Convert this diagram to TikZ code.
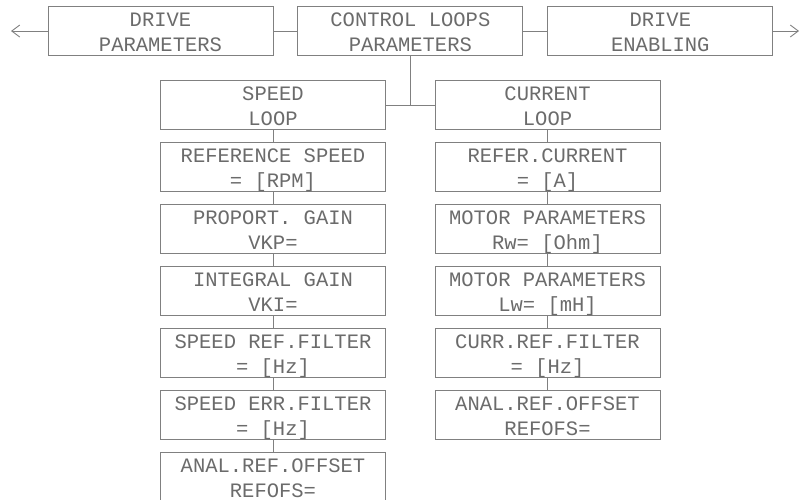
\documentclass[tikz,border=0pt]{standalone}
\usepackage{fontspec}
\setmonofont{Liberation Mono}
\usetikzlibrary{positioning,arrows.meta}

\begin{document}
\begin{tikzpicture}[x=1pt,y=-1pt,>={Straight Barb[length=8pt,width=12pt]},
  line width=0.9pt,color=black!50,
  box/.style={draw,align=center,minimum width=225pt,minimum height=49pt,inner sep=1pt,
    text height=44pt,text depth=3pt,text=black!58,font=\ttfamily\fontsize{20.5}{25}\selectfont}]
  \useasboundingbox (0,0) rectangle (802,499);
  % top row
  \node[box] (par) at (160.5,31) {DRIVE\\PARAMETERS};
  \node[box,right=24pt of par] (ctrl) {CONTROL LOOPS\\PARAMETERS};
  \node[box,right=24pt of ctrl] (enab) {DRIVE\\ENABLING};
  \coordinate (lft) at (11,31);
  \coordinate (rgt) at (799,31);
  % speed loop column
  \node[box] (spd) at (273,105) {SPEED\\LOOP};
  \node[box,below=12.1pt of spd] (refspd) {REFERENCE SPEED\\= [RPM]};
  \node[box,below=12.1pt of refspd] (kp) {PROPORT. GAIN\\VKP=};
  \node[box,below=12.1pt of kp] (ki) {INTEGRAL GAIN\\VKI=};
  \node[box,below=12.1pt of ki] (sreff) {SPEED REF.FILTER\\= [Hz]};
  \node[box,below=12.1pt of sreff] (serrf) {SPEED ERR.FILTER\\= [Hz]};
  \node[box,below=12.1pt of serrf] (soff) {ANAL.REF.OFFSET\\REFOFS=};
  % current loop column
  \node[box] (cur) at (547.5,105) {CURRENT\\LOOP};
  \node[box,below=12.1pt of cur] (refcur) {REFER.CURRENT\\= [A]};
  \node[box,below=12.1pt of refcur] (rw) {MOTOR PARAMETERS\\Rw= [Ohm]};
  \node[box,below=12.1pt of rw] (lw) {MOTOR PARAMETERS\\Lw= [mH]};
  \node[box,below=12.1pt of lw] (creff) {CURR.REF.FILTER\\= [Hz]};
  \node[box,below=12.1pt of creff] (coff) {ANAL.REF.OFFSET\\REFOFS=};
  % connectors
  \draw[->] (par) -- (lft);
  \draw[->] (enab) -- (rgt);
  \draw (par) -- (ctrl) (ctrl) -- (enab);
  \draw (ctrl.south) |- (spd.east) (ctrl.south) |- (cur.west);
  \draw (spd) -- (refspd) -- (kp) -- (ki) -- (sreff) -- (serrf) -- (soff);
  \draw (cur) -- (refcur) -- (rw) -- (lw) -- (creff) -- (coff);
\end{tikzpicture}
\end{document}
